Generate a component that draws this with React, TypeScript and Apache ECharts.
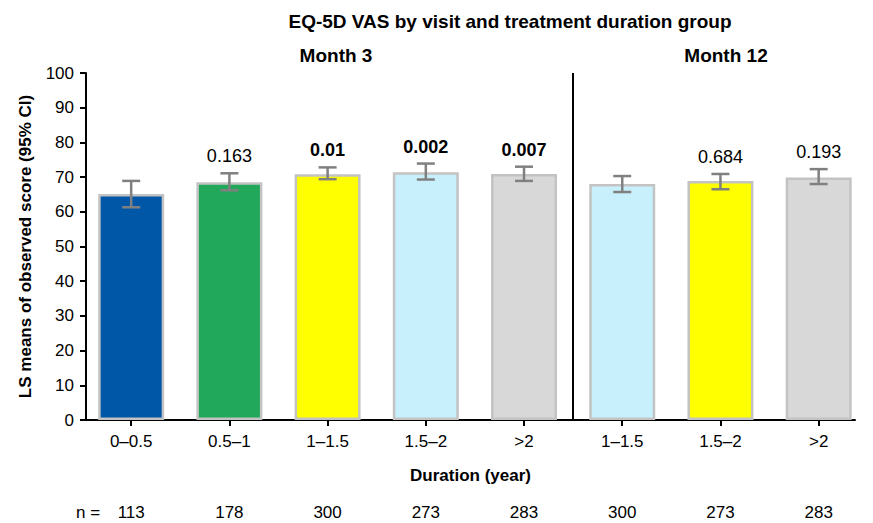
import React, { useEffect, useRef } from "react";
import * as echarts from "echarts";

const categories = ["0–0.5", "0.5–1", "1–1.5", "1.5–2", ">2", "1–1.5", "1.5–2", ">2"];
const means = [65.1, 68.5, 70.8, 71.4, 70.9, 68.0, 68.9, 69.9];
const lower = [61.3, 66.2, 69.4, 69.3, 68.9, 65.7, 66.5, 68.0];
const upper = [68.9, 71.1, 72.8, 73.9, 73.0, 70.3, 70.9, 72.3];
const pValues: (string | null)[] = [null, "0.163", "0.01", "0.002", "0.007", null, "0.684", "0.193"];
const nCounts = [113, 178, 300, 273, 283, 300, 273, 283];
const barColors = ["#0057a8", "#21a85a", "#ffff00", "#c8f0fc", "#d8d8d8", "#c8f0fc", "#ffff00", "#d8d8d8"];
const yTicks = { min: 0, max: 100, interval: 10 };
const visitSplit = 4.5;

const FONT = "'Liberation Sans', Arial, sans-serif";

export default function App() {
  const ref = useRef<HTMLDivElement>(null);
  useEffect(() => {
    document.body.style.margin = "0";
    if (!ref.current) return;
    const chart = echarts.init(ref.current, null, { renderer: "svg" });
    const idx = categories.map((_, i) => i);
    const titleStyle = { fontSize: 19, fontWeight: "bold", color: "#000", fontFamily: FONT };
    chart.setOption({
      animation: false,
      textStyle: { fontFamily: FONT },
      title: [
        { text: "EQ-5D VAS by visit and treatment duration group", left: 505, top: 7, textAlign: "center", textStyle: titleStyle },
        { text: "Month 3", left: 331, top: 41, textAlign: "center", textStyle: titleStyle },
        { text: "Month 12", left: 721, top: 41, textAlign: "center", textStyle: titleStyle },
      ],
      graphic: [
        { type: "text", left: 76, top: 504, style: { text: "n =", fontSize: 17, fill: "#000", fontFamily: FONT } },
      ],
      grid: { left: 86, right: 18, top: 73, bottom: 103, containLabel: false },
      xAxis: [
        {
          type: "value", min: -0.46, max: 7.37,
          name: "Duration (year)", nameLocation: "middle", nameGap: 47,
          nameTextStyle: { fontSize: 17, fontWeight: "bold", color: "#000" },
          splitLine: { show: false },
          axisLine: { show: true, onZero: false, lineStyle: { color: "#000", width: 2 } },
          axisTick: { show: true, customValues: idx, length: 6, lineStyle: { color: "#000", width: 2 } },
          axisLabel: { customValues: idx, formatter: (v: number) => categories[Math.round(v)], fontSize: 17, color: "#000", margin: 13 },
        },
        {
          type: "value", min: -0.46, max: 7.37, position: "bottom", offset: 84,
          splitLine: { show: false },
          axisLine: { show: false, onZero: false }, axisTick: { show: false },
          axisLabel: { customValues: idx, formatter: (v: number) => String(nCounts[Math.round(v)]), fontSize: 17, color: "#000", margin: 0 },
        },
      ],
      yAxis: {
        type: "value", ...yTicks,
        name: "LS means of observed score (95% CI)", nameLocation: "middle", nameGap: 52,
        nameTextStyle: { fontSize: 17, fontWeight: "bold", color: "#000" },
        splitLine: { show: false },
        axisLine: { show: true, onZero: false, lineStyle: { color: "#000", width: 2 } },
        axisTick: { show: true, length: 6, lineStyle: { color: "#000", width: 2 } },
        axisLabel: { fontSize: 17, color: "#000", margin: 12 },
      },
      series: [
        {
          type: "bar", barWidth: 66,
          data: means.map((v, i) => ({ value: [i, v], itemStyle: { color: barColors[i], borderColor: "#c3c3c3", borderWidth: 2.5 } })),
          markLine: {
            silent: true, symbol: "none", label: { show: false },
            lineStyle: { color: "#000", width: 2, type: "solid" },
            data: [{ xAxis: visitSplit }],
          },
        },
        {
          type: "custom",
          data: idx.map((i) => [i, lower[i], upper[i]]),
          renderItem: (params: any, api: any) => {
            const x = api.value(0);
            const lo = api.coord([x, api.value(1)]);
            const hi = api.coord([x, api.value(2)]);
            const hw = 9;
            const style = { stroke: "#808080", lineWidth: 2.5 };
            const children: any[] = [
              { type: "line", shape: { x1: lo[0], y1: lo[1], x2: hi[0], y2: hi[1] }, style },
              { type: "line", shape: { x1: lo[0] - hw, y1: lo[1], x2: lo[0] + hw, y2: lo[1] }, style },
              { type: "line", shape: { x1: hi[0] - hw, y1: hi[1], x2: hi[0] + hw, y2: hi[1] }, style },
            ];
            const p = pValues[params.dataIndex];
            if (p) {
              const bold = parseFloat(p) < 0.05;
              children.push({
                type: "text",
                x: hi[0], y: hi[1] - 17,
                style: { text: p, fontSize: 18, fontWeight: bold ? "bold" : "normal", fill: "#000",
                  align: "center", verticalAlign: "middle", fontFamily: FONT },
              });
            }
            return { type: "group", children };
          },
          z: 5,
        },
      ],
    });
    return () => chart.dispose();
  }, []);
  return <div ref={ref} style={{ width: 873, height: 523 }} />;
}
